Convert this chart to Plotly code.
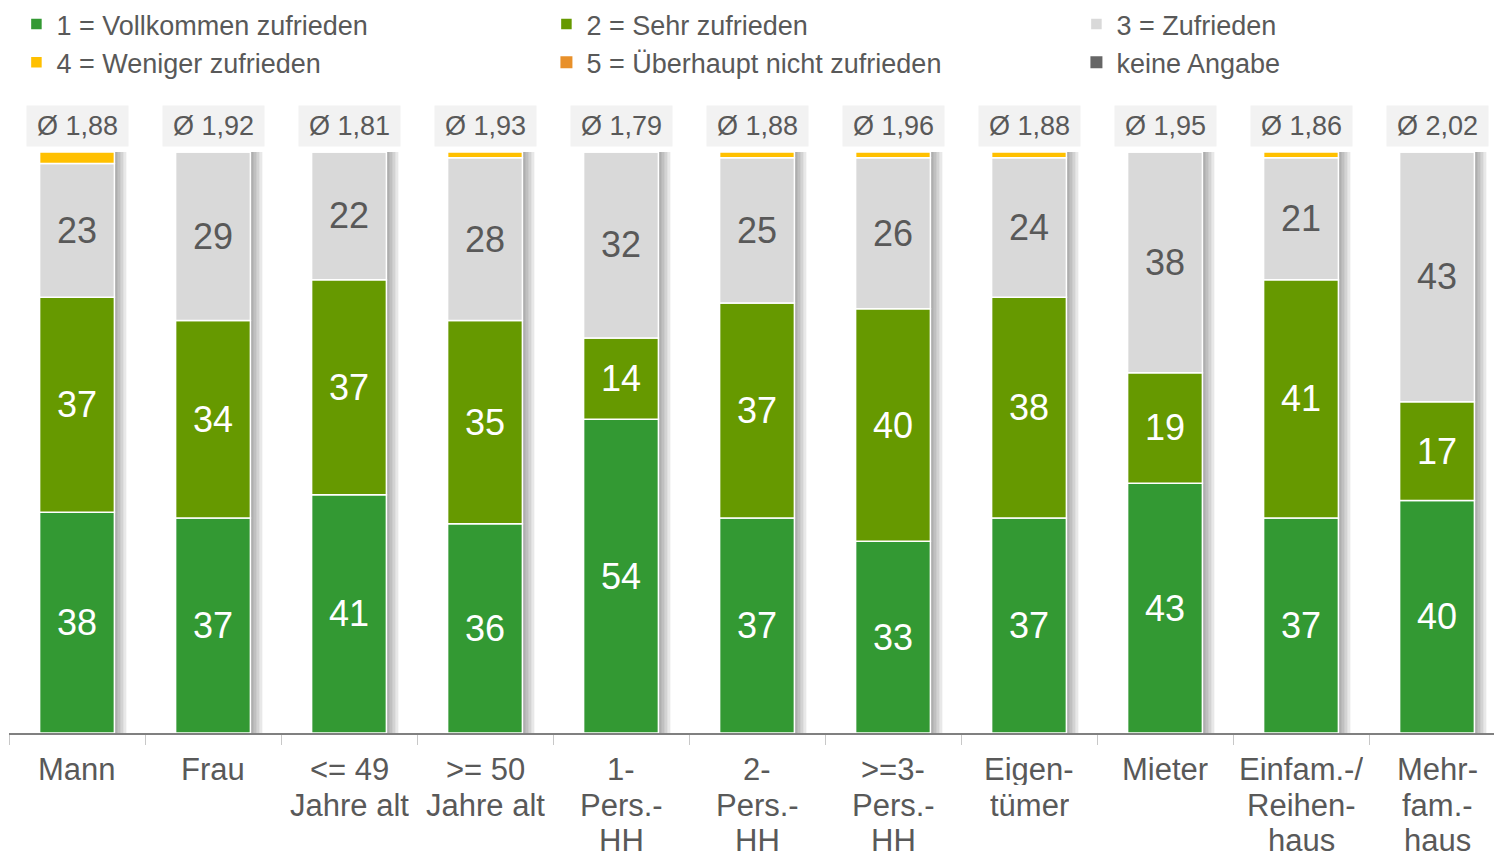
import numpy as np
import plotly.graph_objects as go

# Satisfaction by group, shares in percent
categories = [
    "Mann", "Frau", "&lt;= 49<br>Jahre alt", "&gt;= 50<br>Jahre alt",
    "1-<br>Pers.-<br>HH", "2-<br>Pers.-<br>HH", "&gt;=3-<br>Pers.-<br>HH",
    "Eigen-<br>tümer", "Mieter", "Einfam.-/<br>Reihen-<br>haus", "Mehr-<br>fam.-<br>haus",
]
vollkommen = [38, 37, 41, 36, 54, 37, 33, 37, 43, 37, 40]
sehr = [37, 34, 37, 35, 14, 37, 40, 38, 19, 41, 17]
zufrieden = [23, 29, 22, 28, 32, 25, 26, 24, 38, 21, 43]
weniger = [2, 0, 0, 1, 0, 1, 1, 1, 0, 1, 0]
ueberhaupt = [0] * 11
keine = [0] * 11
averages = [1.88, 1.92, 1.81, 1.93, 1.79, 1.88, 1.96, 1.88, 1.95, 1.86, 2.02]

# (name, values, colour, label colour, legend column)
series = [
    ("1 = Vollkommen zufrieden", vollkommen, "#339933", "white", "legend"),
    ("2 = Sehr zufrieden", sehr, "#669900", "white", "legend2"),
    ("3 = Zufrieden", zufrieden, "#d9d9d9", "#595959", "legend3"),
    ("4 = Weniger zufrieden", weniger, "#ffc000", None, "legend"),
    ("5 = Überhaupt nicht zufrieden", ueberhaupt, "#e8902a", None, "legend2"),
    ("keine Angabe", keine, "#666666", None, "legend3"),
]

FONT = "Liberation Sans, Arial, sans-serif"
GREY = "#595959"
BAR_W = 0.55
OFF = -BAR_W / 2

fig = go.Figure()

# soft drop shadow to the right of each stacked column
totals = np.sum([s[1] for s in series], axis=0)
for k in range(1, 5):
    fig.add_trace(go.Bar(
        x=categories, y=totals, base=0, width=BAR_W, offset=OFF + k * 0.022,
        marker=dict(color="rgba(0,0,0,0.09)", line=dict(width=0)),
        showlegend=False, hoverinfo="skip",
    ))

base = np.zeros(len(categories))
for name, vals, color, tcolor, leg in series:
    vals = np.array(vals, dtype=float)
    has_text = tcolor is not None
    fig.add_trace(go.Bar(
        name=name, x=categories, y=vals, base=base.copy(),
        width=BAR_W, offset=OFF, legend=leg,
        marker=dict(color=color,
                    line=dict(color="white", width=1.5 if vals.any() else 0)),
        text=[f"{int(v)}" for v in vals] if has_text else None,
        textposition="inside" if has_text else "none",
        insidetextanchor="middle",
        textangle=0,
        textfont=dict(family=FONT, size=36, color=tcolor or GREY),
        hoverinfo="skip",
    ))
    base += vals

# mean score boxes above the columns
for cat, avg in zip(categories, averages):
    fig.add_annotation(
        x=cat, y=100, xref="x", yref="y", yanchor="bottom", yshift=5,
        text="Ø " + f"{avg:.2f}".replace(".", ","), showarrow=False,
        font=dict(family=FONT, size=27, color=GREY),
        bgcolor="#f2f2f2", width=95, height=34, borderpad=3,
    )

# category labels below the axis, one line at a time for tight line spacing
for cat in categories:
    for i, line in enumerate(cat.split("<br>")):
        fig.add_annotation(
            x=cat, y=0, xref="x", yref="y", yanchor="middle",
            yshift=-36 - i * 35.5, text=line, showarrow=False,
            font=dict(family=FONT, size=31, color=GREY),
            height=32, valign="middle",
        )

legend_style = dict(
    orientation="v", xanchor="left",
    yref="container", y=1.0, yanchor="top",
    font=dict(family=FONT, size=27, color=GREY),
    traceorder="normal", itemclick=False, tracegroupgap=0,
    bgcolor="rgba(0,0,0,0)",
)

fig.update_layout(
    width=1494, height=856,
    margin=dict(l=9, r=0, t=152, b=123),
    barmode="overlay",
    plot_bgcolor="white", paper_bgcolor="white",
    font=dict(family=FONT, color=GREY),
    legend=dict(x=0.005, **legend_style),
    legend2=dict(x=0.005 + 530 / 1485, **legend_style),
    legend3=dict(x=0.005 + 1060 / 1485, **legend_style),
    xaxis=dict(
        type="category", range=[-0.5, -0.5 + 1485 / 136],
        showline=True, linecolor="#808080", linewidth=1.5,
        ticks="outside", tickson="boundaries", ticklen=10,
        tickcolor="#c8c8c8", tickwidth=1,
        showticklabels=False, automargin=False,
        showgrid=False, zeroline=False,
    ),
    yaxis=dict(range=[0, 100], visible=False, showgrid=False, zeroline=False,
               automargin=False),
)

fig.write_html("out.html")
